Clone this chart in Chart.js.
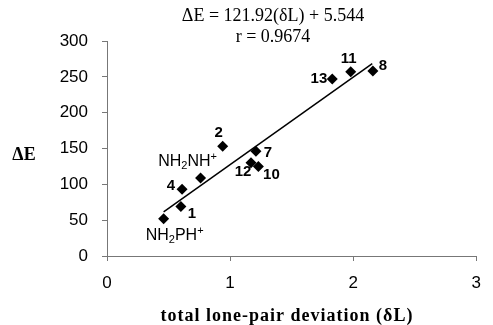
<!DOCTYPE html>
<html>
<head>
<meta charset="utf-8">
<script src="https://cdn.jsdelivr.net/npm/chart.js@4"></script>
<style>
  body { margin: 0; background: #fff; }
  #wrap { width: 493px; height: 325px; }
</style>
</head>
<body>
<div id="wrap"><canvas id="grafico"></canvas></div>
<script>
// datos
const etiquetas = ["NH2PH+", "1", "4", "NH2NH+", "2", "7", "12", "10", "13", "11", "8"];
const desviacion = [0.46, 0.60, 0.61, 0.76, 0.94, 1.21, 1.17, 1.23, 1.83, 1.98, 2.16];
const deltaE = [52, 69, 93, 109, 153, 146, 130, 125, 247, 257, 258];
const ajusteX = [0.46, 2.155];
const ajusteY = [61.6, 268.3];
const ticksX = [0, 1, 2, 3];
const ticksY = [0, 50, 100, 150, 200, 250, 300];

// donde va cada etiqueta respecto a su punto (dx, dy, alineacion)
const offsets = [
  [11, 17, "center"], [11, 7, "center"], [-7, -3, "right"], [-13, -16, "center"],
  [-4, -13, "center"], [12, 1, "center"], [-8, 9, "center"], [13, 8, "center"],
  [-5, 0, "right"], [-2, -13, "center"], [10, -5, "center"]
];

const ctx = document.querySelector("#grafico");

// dibuja texto con sub/superindices tipo NH2PH+
const textoQuimico = (c, txt, x, y, align) => {
  const partes = [];
  for (const ch of txt) {
    if (ch === "2") partes.push([ch, "sub"]);
    else if (ch === "+") partes.push([ch, "sup"]);
    else partes.push([ch, "n"]);
  }
  const fN = "16px 'Liberation Sans', Arial, sans-serif";
  const fS = "11px 'Liberation Sans', Arial, sans-serif";
  let ancho = 0;
  partes.forEach(([ch, t]) => {
    c.font = t === "n" ? fN : fS;
    ancho += c.measureText(ch).width;
  });
  let px = align === "right" ? x - ancho : align === "center" ? x - ancho / 2 : x;
  c.textAlign = "left";
  c.textBaseline = "middle";
  partes.forEach(([ch, t]) => {
    c.font = t === "n" ? fN : fS;
    const dy = t === "sub" ? 4 : t === "sup" ? -5 : 0;
    c.fillText(ch, px, y + dy);
    px += c.measureText(ch).width;
  });
};

const etiquetasPlugin = {
  id: "etiquetas",
  afterDatasetsDraw(chart) {
    const c = chart.ctx;
    const sx = chart.scales.x;
    const sy = chart.scales.y;
    c.save();
    c.fillStyle = "#000";
    etiquetas.forEach((et, i) => {
      const x = sx.getPixelForValue(desviacion[i]) + offsets[i][0];
      const y = sy.getPixelForValue(deltaE[i]) + offsets[i][1];
      if (et.length > 2) {
        textoQuimico(c, et, x, y, offsets[i][2]);
      } else {
        c.font = "bold 15px 'Liberation Sans', Arial, sans-serif";
        c.textAlign = offsets[i][2];
        c.textBaseline = "middle";
        c.fillText(et, x, y);
      }
    });
    // ecuacion arriba
    c.font = "18px 'Liberation Serif', 'Times New Roman', serif";
    c.textAlign = "center";
    c.textBaseline = "middle";
    c.fillText("\u0394E = 121.92(\u03b4L) + 5.544", 273, 16);
    c.fillText("r = 0.9674", 273, 37);
    // titulos de ejes
    c.font = "bold 18px 'Liberation Serif', 'Times New Roman', serif";
    c.fillText("\u0394E", 24, 155);
    c.letterSpacing = "1px";
    c.fillText("total lone-pair deviation (\u03b4L)", 287, 316);
    c.restore();
  }
};

const myChart = new Chart(ctx, {
  type: "scatter",
  data: {
    datasets: [
      {
        label: "puntos",
        data: desviacion.map((x, i) => ({ x: x, y: deltaE[i] })),
        pointStyle: "rectRot",
        pointRadius: 5.5,
        backgroundColor: "#000",
        borderColor: "#000",
        borderWidth: 0,
      },
      {
        label: "ajuste",
        type: "line",
        data: ajusteX.map((x, i) => ({ x: x, y: ajusteY[i] })),
        borderColor: "#000",
        borderWidth: 1.5,
        pointRadius: 0,
        fill: false,
      },
    ],
  },
  options: {
    responsive: true,
    maintainAspectRatio: false,
    animation: false,
    layout: { padding: { top: 41, right: 5, left: 0, bottom: 0 } },
    plugins: {
      legend: { display: false },
      tooltip: { enabled: false },
    },
    scales: {
      x: {
        type: "linear",
        min: 0,
        max: 3,
        afterBuildTicks: (axis) => { axis.ticks = ticksX.map((v) => ({ value: v })); },
        afterFit: (axis) => { axis.height = 69; },
        grid: { drawOnChartArea: false, color: "#777", tickLength: 5, tickColor: "#777" },
        border: { color: "#777" },
        ticks: {
          color: "#000",
          padding: 12,
          font: { family: "'Liberation Sans', Arial, sans-serif", size: 17 },
        },
      },
      y: {
        min: 0,
        max: 300,
        afterBuildTicks: (axis) => { axis.ticks = ticksY.map((v) => ({ value: v })); },
        afterFit: (axis) => { axis.width = 107; },
        grid: { drawOnChartArea: false, color: "#777", tickLength: 5, tickColor: "#777" },
        border: { color: "#777" },
        ticks: {
          color: "#000",
          padding: 14,
          font: { family: "'Liberation Sans', Arial, sans-serif", size: 17 },
        },
      },
    },
  },
  plugins: [etiquetasPlugin],
});
</script>
</body>
</html>
